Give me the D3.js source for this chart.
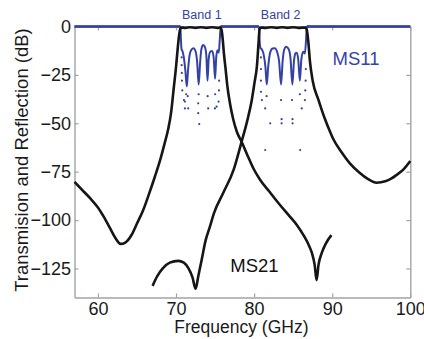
<!DOCTYPE html>
<html><head><meta charset="utf-8">
<script src="https://cdn.jsdelivr.net/npm/d3@7"></script>
<style>
body{margin:0;background:#fff}
svg{display:block}
text{font-family:"Liberation Sans",Arial,sans-serif}
</style>
</head><body>
<svg id="chart" width="424" height="339"></svg>
<script>
// ---------- data ----------
const xTicks = [60, 70, 80, 90, 100];
const yTicks = [0, -25, -50, -75, -100, -125];
const bandNames = ["Band 1", "Band 2"];
const bandCenters = [73.3, 83.4];

// MS21 filter 1 (Band 1 channel) : [GHz, dB]
const ms21Filter1 = [
  [57,-80.3],[58,-84.5],[59,-88.7],[60,-93.5],[60.7,-98],[61.5,-103.8],[62.2,-109],[62.9,-112.3],
  [63.5,-111.6],[64.3,-107.7],[65,-101.8],[65.8,-94.8],[66.5,-87],[67.3,-77.5],[68,-68.5],
  [68.5,-61],[69,-53],[69.35,-45],[69.73,-31],[70,-21],[70.16,-13.8],[70.35,-6],[70.5,-1.8],
  [70.65,-0.5],[71.2,-0.7],[71.8,-0.4],[72.5,-0.7],[73.2,-0.4],[73.9,-0.7],[74.6,-0.4],
  [75.3,-0.7],[75.68,-0.5],[75.84,-2],[76,-7.5],[76.13,-13.8],[76.35,-22],[76.55,-30],
  [76.9,-39.5],[77.3,-47.5],[77.8,-54.5],[78.4,-59.5],[79.2,-67],[79.93,-73.5],[80.74,-79],
  [82,-85.5],[83.13,-91.3],[84.58,-98.2],[85.47,-102.5],[86.28,-107.5],[86.95,-112.5],
  [87.4,-117],[87.75,-123],[88,-131],[88.25,-123],[88.64,-117.2],[89.2,-112],[89.9,-107.8]
];

// MS21 filter 2 (Band 2 channel)
const ms21Filter2 = [
  [67,-134],[67.6,-129],[68.3,-125],[69.2,-122],[70.28,-121.1],[71,-122],[71.6,-125],
  [72.1,-129.5],[72.51,-135.5],[72.85,-129],[73.28,-120.6],[73.79,-110.5],[74.34,-103.4],
  [74.85,-96.5],[76.04,-86],[77.37,-74.1],[78.4,-59.5],[79.1,-49],[79.68,-38.5],[80.05,-29],
  [80.36,-20.5],[80.55,-9.5],[80.7,-1.5],[80.85,-0.5],[81.5,-0.7],[82.2,-0.4],[82.9,-0.7],
  [83.6,-0.4],[84.3,-0.7],[85,-0.4],[85.7,-0.7],[86.6,-0.5],[86.75,-1.8],[86.92,-7],
  [87.15,-18],[87.5,-28],[88.25,-38],[89,-47],[89.74,-54.5],[90.12,-58],[91.2,-65],
  [92.26,-70.7],[93.5,-75.5],[94.6,-78.8],[95.67,-80.7],[96.8,-80],[97.6,-78.5],
  [98.23,-76.7],[99.2,-73.5],[100,-69.5]
];

// MS11 reflection (dense part)
const ms11Curve = [
  [57,0],[70.55,0],[70.62,-6],[70.7,-11.5],[70.85,-13],[71.0,-16],[71.2,-23],[71.38,-31],
  [71.55,-22],[71.75,-14.5],[72.0,-11.8],[72.25,-11.2],[72.5,-12.8],[72.7,-18],[72.9,-30],
  [73.08,-19],[73.22,-12.5],[73.45,-9.6],[73.7,-10.6],[73.88,-15],[74.03,-28],[74.18,-17],
  [74.38,-13],[74.62,-12.6],[74.82,-16],[75.0,-27],[75.15,-16],[75.3,-12.3],[75.48,-13.5],
  [75.6,-7],[75.72,0],
  [80.6,0],[80.7,-7],[80.8,-11],[80.98,-11.8],[81.2,-14],[81.45,-21],[81.62,-30],
  [81.8,-21],[82.05,-13.5],[82.35,-11.4],[82.66,-11.2],[82.95,-13.2],[83.2,-18],[83.45,-30],
  [83.65,-18],[83.85,-12],[84.1,-10.4],[84.4,-11.5],[84.65,-16],[84.9,-30],[85.1,-18],
  [85.3,-13.8],[85.45,-13.5],[85.65,-17],[85.86,-28],[86.05,-17],[86.28,-13],[86.5,-14],
  [86.65,-7],[86.75,0],[100,0]
];

// MS11 sparse samples inside the reflection nulls
const ms11Dots = [
  [70.72,-16],[70.72,-20],[70.74,-24],[70.76,-28],[70.8,-33],[71.01,-38],[71.14,-42.3],
  [71.14,-38.8],[71.56,-42.3],[71.5,-36],[71.3,-35],[72.84,-39.7],[72.84,-44.8],[72.97,-50.4],
  [72.9,-35],[74.12,-42.3],[74.05,-36],[74.98,-42.3],[75.0,-35],[75.2,-41.4],[75.45,-38.8],
  [75.5,-33],[75.52,-28],
  [80.87,-16],[80.87,-22],[80.87,-28],[80.87,-33.7],[81.0,-38],[81.42,-42.3],[81.42,-63.8],
  [82.06,-50],[81.6,-36],[83.52,-47.9],[83.52,-50],[83.45,-38],[84.92,-47.9],[84.92,-50],
  [84.85,-38],[85.9,-63.8],[85.86,-35],[86.1,-42.3],[86.5,-38],[86.55,-33],[86.6,-28],[86.62,-22]
];

// ---------- drawing ----------
const svg = d3.select("#chart");
const x = d3.scaleLinear().domain([57, 100]).range([74.5, 410.3]);
const y = d3.scaleLinear().domain([-140, 0]).range([297.5, 26.5]);
const axisColor = "#a3a3a3";
const blue = "#3443a3";

function styleAxis(g) {
  g.select(".domain").attr("stroke", axisColor).attr("stroke-width", 1.4);
  g.selectAll(".tick line").attr("stroke", axisColor).attr("stroke-width", 1.2);
  g.selectAll(".tick text").attr("fill", "#1a1a1a").style("font-size", "18px")
    .style("font-family", "'Liberation Sans', Arial, sans-serif");
}

svg.append("g").attr("transform", `translate(0,${y(-140)})`)
  .call(d3.axisBottom(x).tickValues(xTicks).tickSizeInner(-4).tickSizeOuter(0).tickPadding(4.5))
  .call(styleAxis);
svg.append("g").attr("transform", `translate(0,${y(0)})`)
  .call(d3.axisTop(x).tickValues(xTicks).tickSizeInner(-4).tickSizeOuter(0).tickFormat(""))
  .call(styleAxis);
svg.append("g").attr("transform", `translate(${x(57)},0)`)
  .call(d3.axisLeft(y).tickValues(yTicks).tickSizeInner(-4).tickSizeOuter(0).tickPadding(3.5))
  .call(styleAxis);
svg.append("g").attr("transform", `translate(${x(100)},0)`)
  .call(d3.axisRight(y).tickValues(yTicks).tickSizeInner(-4).tickSizeOuter(0).tickFormat(""))
  .call(styleAxis);

const line = d3.line().x(d => x(d[0])).y(d => y(d[1])).curve(d3.curveMonotoneX);

// MS11 blue: ripples + flat 0 dB stretches outside the pass bands
svg.append("path").datum(ms11Curve).attr("d", line)
  .attr("fill", "none").attr("stroke", blue).attr("stroke-width", 2);
const flats = d3.pairs(ms11Curve).filter(p => p[0][1] === 0 && p[1][1] === 0);
svg.append("g").selectAll("line").data(flats).join("line")
  .attr("x1", p => x(p[0][0])).attr("x2", p => x(p[1][0]))
  .attr("y1", p => y(p[0][1])).attr("y2", p => y(p[1][1]))
  .attr("stroke", blue).attr("stroke-width", 2.6);
svg.append("g").selectAll("circle").data(ms11Dots).join("circle")
  .attr("cx", d => x(d[0])).attr("cy", d => y(d[1])).attr("r", 1.1).attr("fill", blue);

// MS21 black
[ms21Filter1, ms21Filter2].forEach(s => {
  svg.append("path").datum(s).attr("d", line)
    .attr("fill", "none").attr("stroke", "#161616").attr("stroke-width", 2.6)
    .attr("stroke-linejoin", "round");
});

// annotations
svg.selectAll(".band").data(bandNames).join("text")
  .attr("x", (d, i) => x(bandCenters[i])).attr("y", 18.5)
  .attr("text-anchor", "middle").attr("fill", blue).style("font-size", "12.5px").text(d => d);
svg.append("text").attr("x", x(90.05)).attr("y", y(-19.9))
  .attr("fill", blue).style("font-size", "18.5px").text("MS11");
svg.append("text").attr("x", x(76.95)).attr("y", y(-126.6))
  .attr("fill", "#111").style("font-size", "18.5px").text("MS21");

// axis titles
svg.append("text").attr("x", (x(57) + x(100)) / 2 - 1).attr("y", 333)
  .attr("text-anchor", "middle").attr("fill", "#1a1a1a").style("font-size", "17.5px")
  .text("Frequency (GHz)");
svg.append("text").attr("transform", "rotate(-90)")
  .attr("x", -160).attr("y", 28.3).attr("text-anchor", "middle")
  .attr("fill", "#1a1a1a").style("font-size", "18.5px")
  .text("Transmision and Reflection (dB)");
</script>
</body></html>
